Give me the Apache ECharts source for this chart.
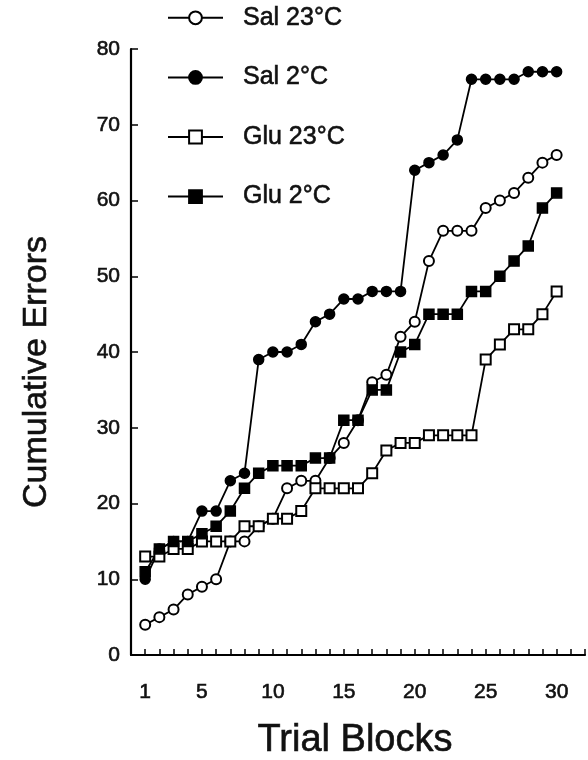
<!DOCTYPE html>
<html>
<head>
<meta charset="utf-8">
<title>Cumulative Errors</title>
<script src="https://cdn.jsdelivr.net/npm/echarts@6/dist/echarts.min.js"></script>
<style>
  html, body { margin: 0; padding: 0; background: #fff; }
  #chart { width: 588px; height: 760px; }
</style>
</head>
<body>
<div id="chart"></div>
<script>
// 数据：每组 30 个试验块的累计错误数
const blocks = Array.from({ length: 30 }, (_, i) => i + 1);
const sal23 = [4, 5, 6, 8, 9, 10, 15, 15, 17, 18, 22, 23, 23, 26, 28, 31, 36, 37, 42, 44, 52, 56, 56, 56, 59, 60, 61, 63, 65, 66];
const sal2 = [10, 14, 15, 15, 19, 19, 23, 24, 39, 40, 40, 41, 44, 45, 47, 47, 48, 48, 48, 64, 65, 66, 68, 76, 76, 76, 76, 77, 77, 77];
const glu23 = [13, 13, 14, 14, 15, 15, 15, 17, 17, 18, 18, 19, 22, 22, 22, 22, 24, 27, 28, 28, 29, 29, 29, 29, 39, 41, 43, 43, 45, 48];
const glu2 = [11, 14, 15, 15, 16, 17, 19, 22, 24, 25, 25, 25, 26, 26, 31, 31, 35, 35, 40, 41, 45, 45, 45, 48, 48, 50, 52, 54, 59, 61];
const xTickLabels = [1, 5, 10, 15, 20, 25, 30];
const seriesNames = ['Sal 23°C', 'Sal 2°C', 'Glu 23°C', 'Glu 2°C'];

const FONT = '"Liberation Sans", Arial, Helvetica, sans-serif';
// 扫描图的笔画偏粗，用细描边加粗文字
const THICK = { textBorderColor: '#111', textBorderWidth: 0.6 };
const THICK_GRAPHIC = { stroke: '#111', lineWidth: 0.6 };

// 把数组组装成 [x, y] 点
const pairs = (values) => values.map((v, i) => [blocks[i], v]);

const makeSeries = (name, values, symbol) => ({
  name: name,
  type: 'line',
  data: pairs(values),
  symbol: symbol,
  symbolSize: 10,
  showAllSymbol: true,
  animation: false,
  lineStyle: { color: '#000', width: 1.8 },
  itemStyle: { color: '#000', borderColor: '#000', borderWidth: 1.5 }
});

const chart = echarts.init(document.getElementById('chart'));

const option = {
  backgroundColor: '#fff',
  animation: false,
  grid: { left: 131, right: 0, top: 49, bottom: 105 },
  legend: {
    orient: 'vertical',
    left: 167,
    top: 5,
    padding: 0,
    itemWidth: 55,
    itemHeight: 16,
    itemGap: 34,
    data: seriesNames,
    textStyle: Object.assign({ fontFamily: FONT, fontSize: 25, color: '#111', padding: [0, 0, 0, 15] }, THICK)
  },
  xAxis: {
    type: 'value',
    min: 0,
    max: 32,
    interval: 1,
    splitLine: { show: false },
    axisLine: { lineStyle: { color: '#000', width: 2.2 } },
    axisTick: { inside: true, length: 6, lineStyle: { color: '#000', width: 1.5 } },
    axisLabel: Object.assign({
      margin: 27,
      fontFamily: FONT,
      fontSize: 21,
      color: '#111',
      formatter: (v) => (xTickLabels.includes(v) ? String(v) : '')
    }, THICK)
  },
  yAxis: {
    type: 'value',
    min: 0,
    max: 80,
    interval: 10,
    splitLine: { show: false },
    axisLine: { show: true, lineStyle: { color: '#000', width: 2.2 } },
    axisTick: { show: true, inside: true, length: 7, lineStyle: { color: '#000', width: 1.5 } },
    axisLabel: Object.assign({ margin: 11, fontFamily: FONT, fontSize: 21, color: '#111' }, THICK)
  },
  // 坐标轴标题
  graphic: [
    {
      type: 'text',
      x: 355,
      y: 722,
      style: Object.assign({ text: 'Trial Blocks', font: '38px ' + FONT, fill: '#111', textAlign: 'center' }, THICK_GRAPHIC)
    },
    {
      type: 'text',
      x: 20,
      y: 372,
      rotation: Math.PI / 2,
      style: Object.assign({ text: 'Cumulative Errors', font: '34px ' + FONT, fill: '#111', textAlign: 'center', textVerticalAlign: 'top' }, THICK_GRAPHIC)
    }
  ],
  series: [
    makeSeries(seriesNames[0], sal23, 'emptyCircle'),
    makeSeries(seriesNames[1], sal2, 'circle'),
    makeSeries(seriesNames[2], glu23, 'emptyRect'),
    makeSeries(seriesNames[3], glu2, 'rect')
  ]
};

chart.setOption(option);
</script>
</body>
</html>
